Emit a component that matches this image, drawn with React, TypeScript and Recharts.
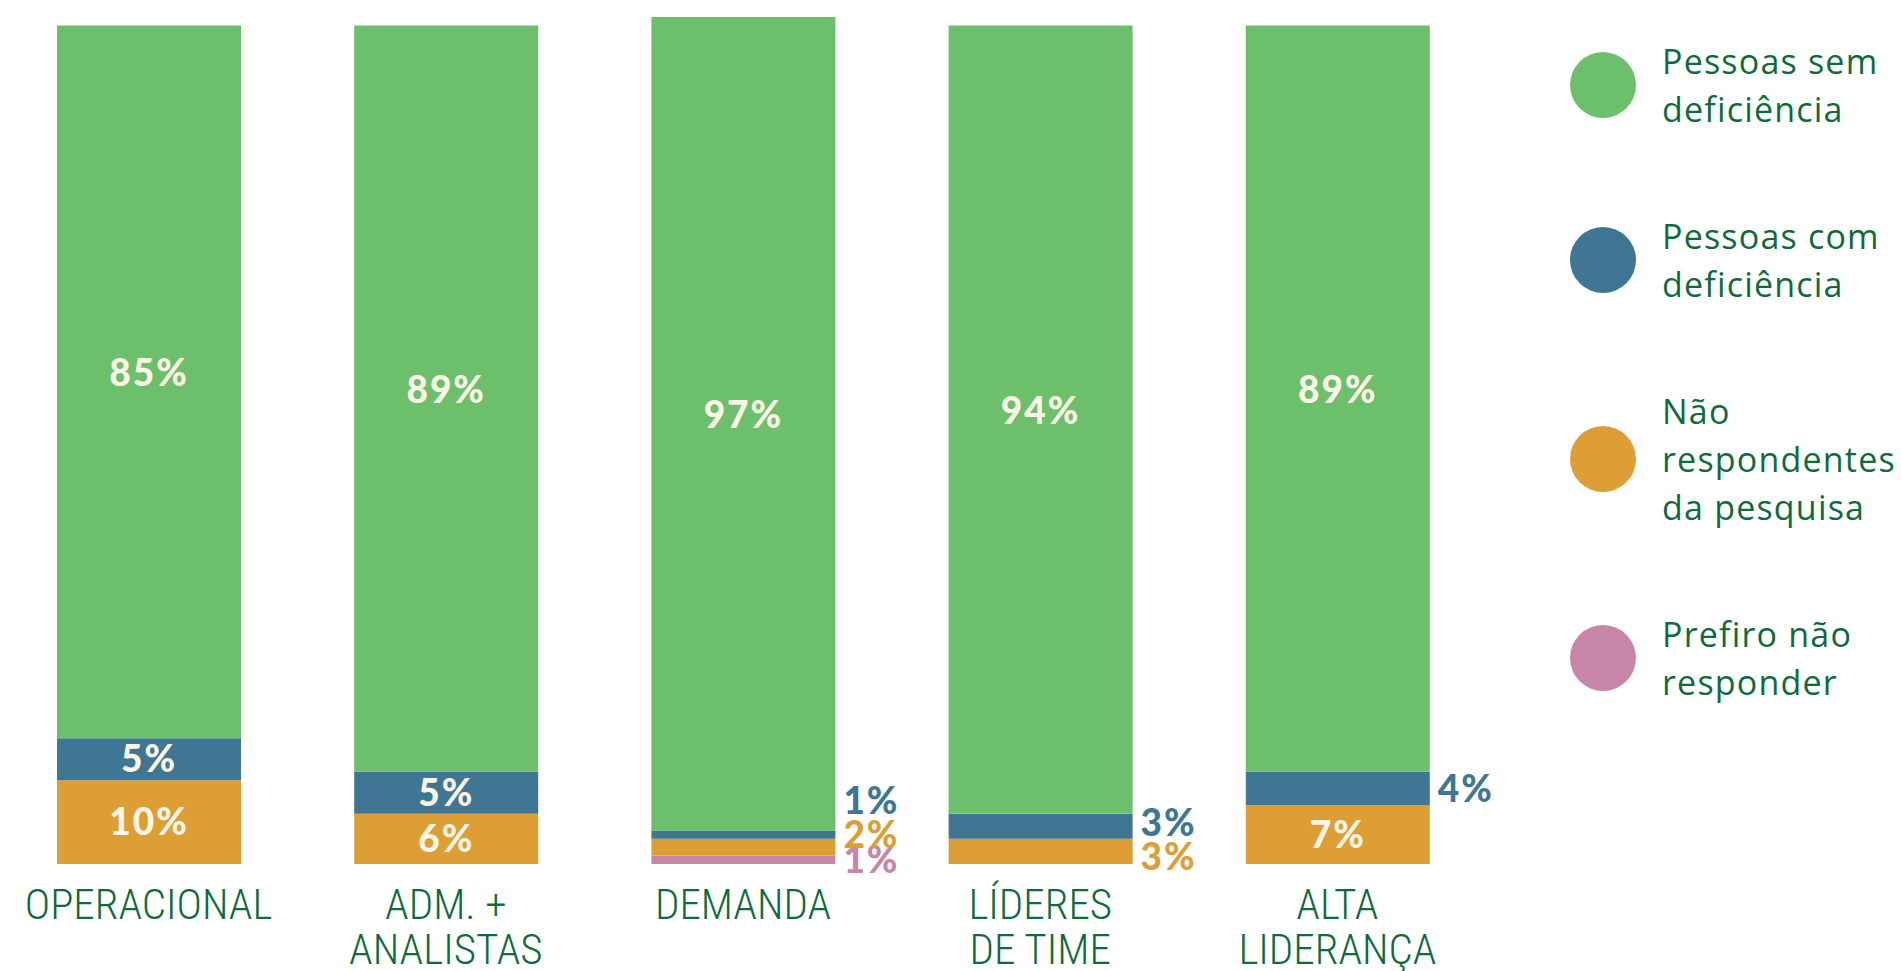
import { BarChart, Bar, XAxis, YAxis, Legend, LabelList } from 'recharts';

const categories = ['OPERACIONAL', 'ADM. +\nANALISTAS', 'DEMANDA', 'LÍDERES\nDE TIME', 'ALTA\nLIDERANÇA'];
const semDeficiencia = [85, 89, 97, 94, 89];
const comDeficiencia = [5, 5, 1, 3, 4];
const naoRespondentes = [10, 6, 2, 3, 7];
const prefiroNao = [0, 0, 1, 0, 0];

// stack order, bottom to top
const series = [
  { key: 'prefiro', name: 'Prefiro não\nresponder', color: '#c785a8', values: prefiroNao },
  { key: 'naoResp', name: 'Não\nrespondentes\nda pesquisa', color: '#de9e36', values: naoRespondentes },
  { key: 'com', name: 'Pessoas com\ndeficiência', color: '#3e7693', values: comDeficiencia },
  { key: 'sem', name: 'Pessoas sem\ndeficiência', color: '#6dc06b', values: semDeficiencia },
];

const data = categories.map((name, i) => {
  const row: Record<string, string | number> = { name };
  series.forEach(s => { row[s.key] = s.values[i]; });
  return row;
});

const TEXT_GREEN = '#0d6b3c';
const CREAM = '#fdf6e6';
const INSIDE_MIN = 5;

// y of an outside label; small labels are pushed apart so they don't collide
function outsideLabelY(idx: number, key: string, y: number, height: number, value: number) {
  const ppu = height / value;
  const pos = series.findIndex(s => s.key === key);
  const below = series.slice(0, pos).reduce((a, s) => a + s.values[idx], 0);
  const barBottom = y + height + below * ppu;
  let cum = 0;
  let prev: number | null = null;
  let result = y + height / 2;
  for (const s of series) {
    const v = s.values[idx];
    if (v > 0 && v < INSIDE_MIN) {
      const center = barBottom - (cum + v / 2) * ppu;
      let ly: number;
      if (prev === null) ly = cum === 0 ? center + 3 + (4 - v) * 2 : center;
      else ly = Math.min(center, prev - 34);
      if (s.key === key) result = ly;
      prev = ly;
    }
    cum += v;
  }
  return result;
}

function makeLabel(key: string, color: string) {
  return (props: any) => {
    const { x, y, width, height, value, index } = props;
    if (!value) return null;
    const common = { fontFamily: 'Lato, sans-serif', fontWeight: 900, fontSize: 37, letterSpacing: 2 };
    if (value >= INSIDE_MIN) {
      const shift = key === 'sem' ? -9 : 0;
      return (
        <text x={x + width / 2} y={y + height / 2 + shift} dy="0.36em" textAnchor="middle" fill={CREAM} {...common}>
          {value}%
        </text>
      );
    }
    const ly = outsideLabelY(index, key, y, height, value);
    return (
      <text x={x + width + 8} y={ly} dy="0.36em" textAnchor="start" fill={color} {...common}>
        {value}%
      </text>
    );
  };
}

function CategoryTick(props: any) {
  const { x, y, payload } = props;
  const lines = String(payload.value).split('\n');
  return (
    <text x={x} y={y} textAnchor="middle" fill={TEXT_GREEN}
      style={{ fontFamily: "'Roboto Condensed', 'Liberation Sans Narrow', Roboto, sans-serif", fontSize: 43, fontWeight: 300 }}>
      {lines.map((l, i) => (
        <tspan key={i} x={x} dy={i === 0 ? 47 : 45}>{l}</tspan>
      ))}
    </text>
  );
}

function LegendContent() {
  return (
    <div style={{ display: 'flex', flexDirection: 'column', gap: 79 }}>
      {[...series].reverse().map(s => (
        <div key={s.key} style={{ display: 'flex', alignItems: 'center' }}>
          <div style={{ width: 66, height: 66, borderRadius: '50%', background: s.color, flexShrink: 0 }} />
          <div style={{
            marginLeft: 26, whiteSpace: 'pre-line', color: TEXT_GREEN,
            fontFamily: "'Open Sans', sans-serif", fontSize: 34, lineHeight: '48px', letterSpacing: 1.2,
          }}>
            {s.name}
          </div>
        </div>
      ))}
    </div>
  );
}

export default function App() {
  return (
    <div style={{ width: 1901, height: 971, background: '#fff', position: 'relative', overflow: 'hidden' }}>
      <style>{'body { margin: 0; }'}</style>
      <BarChart width={1901} height={971} data={data} margin={{ top: 17, right: 415, left: 0, bottom: 7 }}>
        <XAxis dataKey="name" axisLine={false} tickLine={false} interval={0} height={100} tick={<CategoryTick />} />
        <YAxis hide domain={[0, 101]} />
        <Legend layout="vertical" align="center" verticalAlign="middle" content={<LegendContent />}
          wrapperStyle={{ top: 37, left: 1570, width: 330 }} />
        {series.map(s => (
          <Bar key={s.key} dataKey={s.key} name={s.name} stackId="a" fill={s.color} barSize={184} isAnimationActive={false}>
            <LabelList dataKey={s.key} content={makeLabel(s.key, s.color)} />
          </Bar>
        ))}
      </BarChart>
    </div>
  );
}
